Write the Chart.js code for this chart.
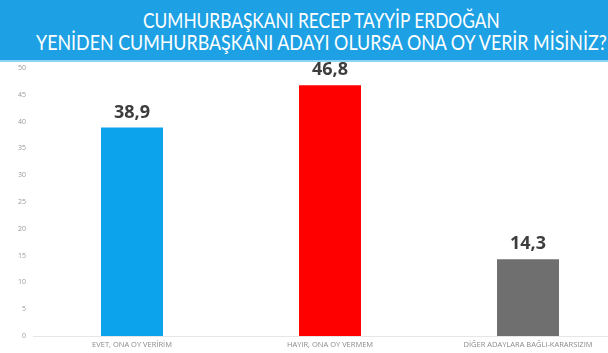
<!DOCTYPE html>
<html>
<head>
  <title>Erdoğan anketi</title>
  <script src="https://cdn.jsdelivr.net/npm/chart.js"></script>
  <style>
    html, body { margin: 0; padding: 0; background: #fff; overflow: hidden; width: 608px; height: 353px; }
    #banner {
      position: relative; width: 608px; height: 62px; background: #1da1e4; color: #fff;
      border-bottom: 2px solid #8fd3f3; box-sizing: border-box;
      font-family: Lato, sans-serif; font-size: 21px; line-height: 22px; white-space: nowrap;
    }
    #banner span { position: absolute; transform-origin: 0 0; }
    #wrap { position: relative; width: 640px; height: 291px; }
  </style>
</head>
<body>
  <div id="banner">
    <span data-w="357" style="top:9px">CUMHURBAŞKANI RECEP TAYYİP ERDOĞAN</span>
    <span data-w="571" style="top:31px">YENİDEN CUMHURBAŞKANI ADAYI OLURSA ONA OY VERİR MİSİNİZ?</span>
  </div>
  <div id="wrap"><canvas id="poll"></canvas></div>

  <script>
    const categories = ['EVET, ONA OY VERİRİM', 'HAYIR, ONA OY VERMEM', 'DİĞER ADAYLARA BAĞLI-KARARSIZIM'];
    const values = [38.9, 46.8, 14.3];
    const barColors = ['#0ca3ec', '#ff0000', '#6f6f6f'];
    const yTicks = [0, 5, 10, 15, 20, 25, 30, 35, 40, 45, 50];

    // squeeze the title lines to the narrow width of the original, centred near x=321
    document.querySelectorAll('#banner span').forEach(s => {
      const w = +s.dataset.w;
      s.style.left = (321 - w / 2) + 'px';
      s.style.transform = 'scaleX(' + (w / s.offsetWidth) + ')';
    });

    // value labels above each bar, comma decimals
    const valueLabels = {
      id: 'valueLabels',
      afterDatasetsDraw(chart) {
        const ctx = chart.ctx;
        const meta = chart.getDatasetMeta(0);
        ctx.save();
        ctx.font = 'bold 18px "Open Sans", sans-serif';
        ctx.fillStyle = '#3d3d3d';
        ctx.textAlign = 'center';
        ctx.textBaseline = 'bottom';
        meta.data.forEach((bar, i) => {
          ctx.fillText(values[i].toFixed(1).replace('.', ','), bar.x, bar.y - 6);
        });
        ctx.restore();
      }
    };

    new Chart(document.getElementById('poll'), {
      type: 'bar',
      data: {
        labels: categories,
        datasets: [{
          data: values,
          backgroundColor: barColors,
          categoryPercentage: 1,
          barPercentage: 0.313
        }]
      },
      options: {
        responsive: true,
        maintainAspectRatio: false,
        animation: false,
        layout: { padding: { top: 0, left: 0, right: 13, bottom: 0 } },
        plugins: { legend: { display: false }, tooltip: { enabled: false } },
        scales: {
          x: {
            grid: { display: false, drawTicks: false, tickLength: 0 },
            border: { display: true, color: '#e6e6e6', width: 1 },
            ticks: { color: '#8a8a8a', font: { family: 'Open Sans', size: 7.5 }, padding: 4, maxRotation: 0 }
          },
          y: {
            min: 0, max: 50,
            afterBuildTicks: s => { s.ticks = yTicks.map(v => ({ value: v })); },
            afterFit: s => { s.width = 33; s.paddingTop = 6; },
            grid: { display: false, drawTicks: false, tickLength: 0 },
            border: { display: false },
            ticks: { color: '#999', font: { family: 'Open Sans', size: 7 }, padding: 7 }
          }
        }
      },
      plugins: [valueLabels]
    });
  </script>
</body>
</html>
